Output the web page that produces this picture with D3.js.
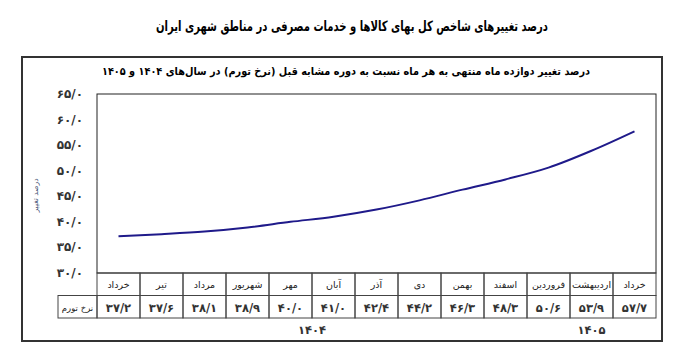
<!DOCTYPE html>
<html>
<head>
<meta charset="utf-8">
<script src="https://cdn.jsdelivr.net/npm/d3@7"></script>
<style>
  body { margin: 0; background: #fff; }
  svg text { font-family: "DejaVu Sans", sans-serif; }
</style>
</head>
<body>
<svg id="chart" width="693" height="361"></svg>
<script>
// داده‌ها
var mahha = ["خرداد", "تیر", "مرداد", "شهریور", "مهر", "آبان", "آذر", "دی", "بهمن", "اسفند", "فروردین", "اردیبهشت", "خرداد"];
var tavarom = [37.2, 37.6, 38.1, 38.9, 40.0, 41.0, 42.4, 44.2, 46.3, 48.3, 50.6, 53.9, 57.7];
var yTicks = [30, 35, 40, 45, 50, 55, 60, 65];
var salha = ["۱۴۰۴", "۱۴۰۵"];
var salAz = [0, 10];
var salTa = [9, 12];

var titr = "درصد تغییرهای شاخص کل بهای کالاها و خدمات مصرفی در مناطق شهری ایران";
var zirTitr = "درصد تغییر دوازده ماه منتهی به هر ماه نسبت به دوره مشابه قبل (نرخ تورم) در سال‌های ۱۴۰۴ و ۱۴۰۵";
var onvanY = "درصد تغییر";
var onvanRadif = "نرخ تورم";

function faNum(v) {
    var s = d3.format(".1f")(v);
    return s.replace(/\d/g, function (c) { return "۰۱۲۳۴۵۶۷۸۹"[+c]; }).replace(".", "/");
}

var svg = d3.select("#chart");

var chapX = 97, rastX = 656, balaY = 94, paeenY = 273;
var rowH = 22.5;

var x = d3.scaleBand().domain(d3.range(mahha.length)).range([chapX, rastX]);
var y = d3.scaleLinear().domain([30, 65]).range([paeenY, balaY]);

// عنوان
svg.append("text")
    .attr("x", 352).attr("y", 31)
    .attr("text-anchor", "middle")
    .attr("direction", "rtl")
    .attr("textLength", 392)
    .attr("lengthAdjust", "spacingAndGlyphs")
    .style("font-size", "14px")
    .style("font-weight", "bold")
    .text(titr);

// کادر بیرونی
svg.append("rect")
    .attr("x", 22).attr("y", 57)
    .attr("width", 640).attr("height", 284)
    .attr("fill", "none")
    .attr("stroke", "#333")
    .attr("stroke-width", 2);

svg.append("text")
    .attr("x", 346).attr("y", 75)
    .attr("text-anchor", "middle")
    .attr("direction", "rtl")
    .attr("textLength", 488)
    .attr("lengthAdjust", "spacingAndGlyphs")
    .style("font-size", "11px")
    .style("font-weight", "bold")
    .text(zirTitr);

// کادر نمودار
svg.append("rect")
    .attr("x", chapX).attr("y", balaY)
    .attr("width", rastX - chapX).attr("height", paeenY - balaY)
    .attr("fill", "none")
    .attr("stroke", "#222")
    .attr("stroke-width", 1);

// برچسب محور عمودی
svg.selectAll(".yTick")
    .data(yTicks)
    .enter().append("text")
    .attr("class", "yTick")
    .attr("x", 83)
    .attr("y", function (d) { return y(d) + 4; })
    .attr("text-anchor", "end")
    .style("font-size", "12px")
    .style("font-weight", "bold")
    .style("fill", "#333")
    .text(function (d) { return faNum(d); });

svg.append("text")
    .attr("transform", "translate(38," + ((balaY + paeenY) / 2 + 12) + ") rotate(-90)")
    .attr("text-anchor", "middle")
    .attr("direction", "rtl")
    .style("font-size", "7.5px")
    .style("fill", "#4a5a7a")
    .text(onvanY);

// خط نرخ تورم
var line = d3.line()
    .x(function (d, i) { return x(i) + x.bandwidth() / 2; })
    .y(function (d) { return y(d); })
    .curve(d3.curveMonotoneX);

svg.append("path")
    .datum(tavarom)
    .attr("d", line)
    .attr("fill", "none")
    .attr("stroke", "#1f1a8a")
    .attr("stroke-width", 2);

// جدول
var jadval = svg.append("g");
var gridColor = "#444";

jadval.selectAll(".sarRadif")
    .data(mahha)
    .enter().append("rect")
    .attr("x", function (d, i) { return x(i); })
    .attr("y", paeenY)
    .attr("width", x.bandwidth())
    .attr("height", rowH)
    .attr("fill", "none")
    .attr("stroke", gridColor);

jadval.selectAll(".meghdar")
    .data(tavarom)
    .enter().append("rect")
    .attr("x", function (d, i) { return x(i); })
    .attr("y", paeenY + rowH)
    .attr("width", x.bandwidth())
    .attr("height", rowH)
    .attr("fill", "none")
    .attr("stroke", gridColor);

jadval.append("rect")
    .attr("x", 58).attr("y", paeenY + rowH)
    .attr("width", chapX - 58).attr("height", rowH)
    .attr("fill", "none")
    .attr("stroke", gridColor);

jadval.selectAll(".mahText")
    .data(mahha)
    .enter().append("text")
    .attr("x", function (d, i) { return x(i) + x.bandwidth() / 2; })
    .attr("y", paeenY + 15)
    .attr("text-anchor", "middle")
    .attr("direction", "rtl")
    .style("font-size", "9.5px")
    .style("fill", "#222")
    .text(function (d) { return d; });

jadval.selectAll(".valText")
    .data(tavarom)
    .enter().append("text")
    .attr("x", function (d, i) { return x(i) + x.bandwidth() / 2; })
    .attr("y", paeenY + rowH + 16)
    .attr("text-anchor", "middle")
    .style("font-size", "11.5px")
    .style("font-weight", "bold")
    .style("fill", "#333")
    .text(function (d) { return faNum(d); });

jadval.append("text")
    .attr("x", (58 + chapX) / 2)
    .attr("y", paeenY + rowH + 15)
    .attr("text-anchor", "middle")
    .attr("direction", "rtl")
    .style("font-size", "8.5px")
    .style("fill", "#222")
    .text(onvanRadif);

// سال‌ها
svg.selectAll(".sal")
    .data(salha)
    .enter().append("text")
    .attr("x", function (d, i) { return (x(salAz[i]) + x(salTa[i]) + x.bandwidth()) / 2; })
    .attr("y", 334)
    .attr("text-anchor", "middle")
    .style("font-size", "11.5px")
    .style("font-weight", "bold")
    .style("fill", "#333")
    .text(function (d) { return d; });
</script>
</body>
</html>
